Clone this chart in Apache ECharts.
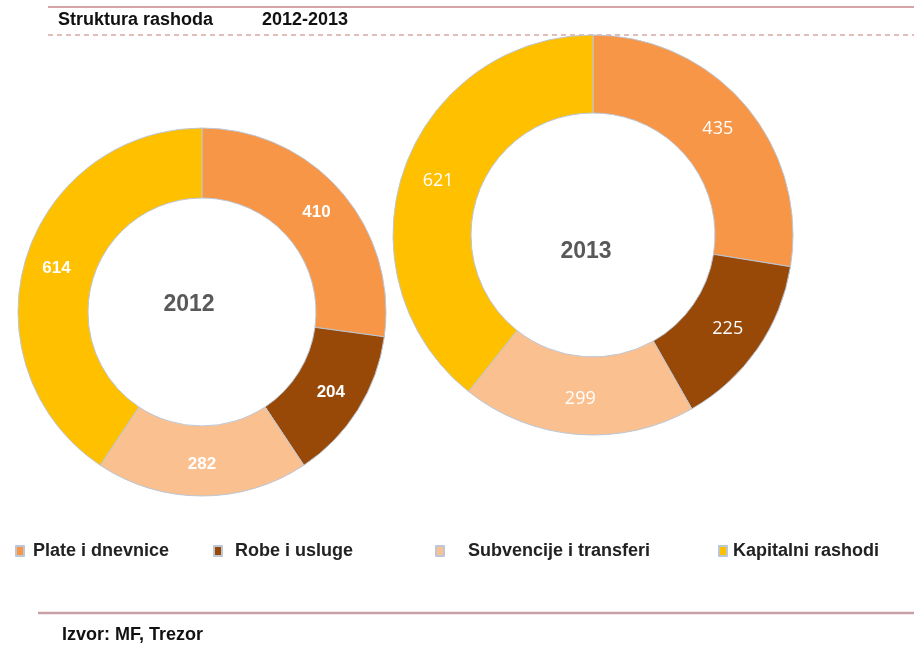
<!DOCTYPE html>
<html>
<head>
<meta charset="UTF-8">
<script src="https://cdn.jsdelivr.net/npm/echarts@6/dist/echarts.min.js"></script>
<title>Struktura rashoda</title>
<style>
  html, body { margin: 0; padding: 0; background: #fff; }
  #main { width: 914px; height: 647px; }
</style>
</head>
<body>
<div id="main"></div>
<script>
var categories = ['Plate i dnevnice', 'Robe i usluge', 'Subvencije i transferi', 'Kapitalni rashodi'];
var values2012 = [410, 204, 282, 614];
var values2013 = [435, 225, 299, 621];
var years = ['2012', '2013'];
var colors = ['#F79646', '#984807', '#FAC090', '#FFC000'];

var font = '"Liberation Sans", Arial, sans-serif';

function toData(vals) {
  var out = [];
  for (var i = 0; i < vals.length; i++) {
    out.push({ name: categories[i], value: vals[i] });
  }
  return out;
}

// one legend per item, the gaps in the original are uneven
var legendLeft = [10, 208, 430, 713];
var legendPad = [4, 8, 19, 1];
var legends = [];
for (var i = 0; i < categories.length; i++) {
  legends.push({
    data: [categories[i]],
    left: legendLeft[i],
    top: 537,
    itemWidth: 8,
    itemHeight: 10,
    itemGap: 0,
    icon: 'rect',
    textStyle: { fontFamily: font, fontSize: 18, fontWeight: 'bold', color: '#222',
                 padding: [0, 0, 0, legendPad[i]] }
  });
}

var myChart = echarts.init(document.getElementById('main'));
myChart.setOption({
  animation: false,
  color: colors,
  legend: legends,
  title: [
    { text: years[0], left: 184, top: 288, textAlign: 'center',
      textStyle: { fontFamily: font, fontSize: 23, fontWeight: 'bold', color: '#595959' } },
    { text: years[1], left: 581, top: 235, textAlign: 'center',
      textStyle: { fontFamily: font, fontSize: 23, fontWeight: 'bold', color: '#595959' } }
  ],
  graphic: [
    { type: 'line', shape: { x1: 48, y1: 7, x2: 914, y2: 7 }, style: { stroke: '#d6a3a6', lineWidth: 2 } },
    { type: 'text', left: 58, top: 11, style: { text: 'Struktura rashoda', font: 'bold 18px ' + font, fill: '#111' } },
    { type: 'text', left: 262, top: 11, style: { text: '2012-2013', font: 'bold 18px ' + font, fill: '#111' } },
    { type: 'line', shape: { x1: 48, y1: 35, x2: 914, y2: 35 }, style: { stroke: '#c77a7a', lineWidth: 1.2, lineDash: [5, 4] } },
    { type: 'line', shape: { x1: 38, y1: 613, x2: 914, y2: 613 }, style: { stroke: '#c9a0a5', lineWidth: 2.5 } },
    { type: 'text', left: 62, top: 626, style: { text: 'Izvor: MF, Trezor', font: 'bold 18px ' + font, fill: '#111' } }
  ],
  series: [
    {
      name: years[0],
      type: 'pie',
      center: [202, 312],
      radius: [114, 184],
      startAngle: 90,
      clockwise: true,
      z: 2,
      itemStyle: { borderColor: '#bcc6d4', borderWidth: 1 },
      label: { position: 'inside', formatter: '{c}', color: '#fff',
               fontFamily: font, fontSize: 17, fontWeight: 'bold' },
      labelLine: { show: false },
      emphasis: { disabled: true },
      data: toData(values2012)
    },
    {
      name: years[1],
      type: 'pie',
      center: [593, 235],
      radius: [122, 200],
      startAngle: 90,
      clockwise: true,
      z: 1,
      itemStyle: { borderColor: '#bcc6d4', borderWidth: 1 },
      label: { position: 'inside', formatter: '{c}', color: '#fff',
               fontFamily: '"Open Sans", "Noto Sans", sans-serif', fontSize: 18 },
      labelLine: { show: false },
      emphasis: { disabled: true },
      data: toData(values2013)
    }
  ]
});
</script>
</body>
</html>
